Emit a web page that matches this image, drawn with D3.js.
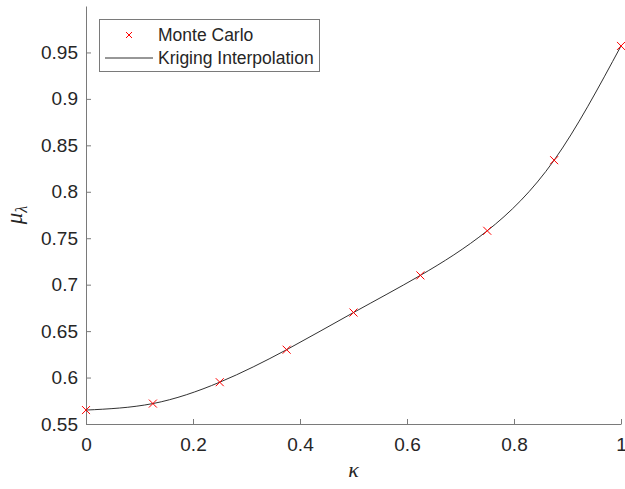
<!DOCTYPE html>
<html><head><meta charset="utf-8">
<script src="https://cdn.jsdelivr.net/npm/d3@7"></script>
<style>body{margin:0;background:#fff}svg{display:block}</style>
</head><body>
<script>
const kappa = [0, 0.125, 0.25, 0.375, 0.5, 0.625, 0.75, 0.875, 1];
const monteCarlo = [0.565, 0.572, 0.595, 0.630, 0.670, 0.710, 0.758, 0.834, 0.957];
const xTicks = [0, 0.2, 0.4, 0.6, 0.8, 1];
const xTickLabels = ["0", "0.2", "0.4", "0.6", "0.8", "1"];
const yTicks = [0.55, 0.6, 0.65, 0.7, 0.75, 0.8, 0.85, 0.9, 0.95];
const yTickLabels = ["0.55", "0.6", "0.65", "0.7", "0.75", "0.8", "0.85", "0.9", "0.95"];
const legendLabels = ["Monte Carlo", "Kriging Interpolation"];

const W = 625, H = 489;
const m = {left: 86, right: 4, top: 6, bottom: 65};
const svg = d3.select("body").append("svg").attr("width", W).attr("height", H);
const x = d3.scaleLinear().domain([0, 1]).range([m.left, W - m.right]);
const y = d3.scaleLinear().domain([0.55, 1.0]).range([H - m.bottom, m.top]);
const font = "'Liberation Sans', Arial, Helvetica, sans-serif";
const axisColor = "#7a7a7a";
const textColor = "#262626";

const gx = svg.append("g").attr("transform", `translate(0,${y(0.55)})`)
  .call(d3.axisBottom(x).tickValues(xTicks).tickSizeInner(-5).tickSizeOuter(0)
    .tickFormat((d, i) => xTickLabels[i]).tickPadding(14));
const gy = svg.append("g").attr("transform", `translate(${x(0)},0)`)
  .call(d3.axisLeft(y).tickValues(yTicks).tickSizeInner(-5).tickSizeOuter(0)
    .tickFormat((d, i) => yTickLabels[i]).tickPadding(8));
[gx, gy].forEach(g => {
  g.select(".domain").attr("stroke", axisColor);
  g.selectAll(".tick line").attr("stroke", axisColor);
  g.selectAll(".tick text").attr("fill", textColor).style("font-family", font).style("font-size", "19px");
});
gx.selectAll(".tick text").attr("dy", "0.71em");

const line = d3.line().x((d, i) => x(kappa[i])).y(d => y(d)).curve(d3.curveNatural);
svg.append("path").datum(monteCarlo).attr("d", line)
  .attr("fill", "none").attr("stroke", "#1a1a1a").attr("stroke-width", 0.9);

const s = 4;
const mk = svg.append("g");
monteCarlo.forEach((v, i) => {
  const cx = x(kappa[i]), cy = y(v);
  mk.append("path").attr("d", `M${cx - s},${cy - s}L${cx + s},${cy + s}M${cx - s},${cy + s}L${cx + s},${cy - s}`)
    .attr("stroke", "#ff0000").attr("stroke-width", 1).attr("fill", "none");
});

svg.append("text").attr("x", x(0.5)).attr("y", 477).attr("text-anchor", "middle")
  .style("font-family", "'Liberation Serif', 'Times New Roman', serif").style("font-style", "italic")
  .style("font-size", "22px").attr("fill", textColor).text("κ");
const yl = svg.append("text").attr("transform", `translate(22,${(y(0.55) + y(1.0)) / 2}) rotate(-90)`)
  .attr("text-anchor", "middle")
  .style("font-family", "'Liberation Serif', 'Times New Roman', serif").style("font-style", "italic")
  .style("font-size", "23px").attr("fill", textColor);
yl.append("tspan").text("μ");
yl.append("tspan").attr("dy", 5).style("font-size", "16px").text("λ");

const lg = svg.append("g");
lg.append("rect").attr("x", 99.5).attr("y", 19.5).attr("width", 220).attr("height", 52)
  .attr("fill", "#fff").attr("stroke", "#7a7a7a").attr("stroke-width", 1);
const lx = 129, ly1 = 35, ly2 = 58;
const ls = 3;
lg.append("path").attr("d", `M${lx - ls},${ly1 - ls}L${lx + ls},${ly1 + ls}M${lx - ls},${ly1 + ls}L${lx + ls},${ly1 - ls}`)
  .attr("stroke", "#ff0000").attr("stroke-width", 1);
lg.append("line").attr("x1", 105).attr("x2", 153).attr("y1", ly2).attr("y2", ly2)
  .attr("stroke", "#1a1a1a").attr("stroke-width", 0.9);
[ly1, ly2].forEach((yy, i) => {
  lg.append("text").attr("x", 158).attr("y", yy).attr("dy", "0.35em")
    .style("font-family", font).style("font-size", "17.5px").attr("fill", textColor).text(legendLabels[i]);
});
</script>
</body></html>
